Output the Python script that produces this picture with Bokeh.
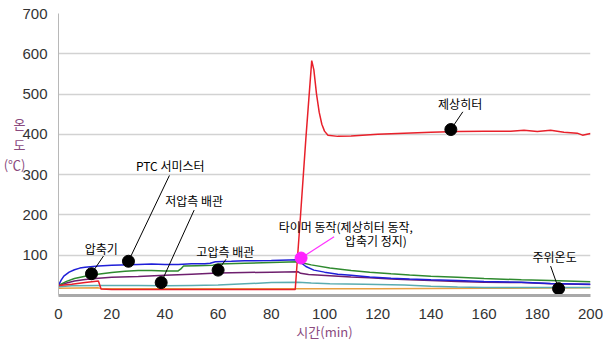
from bokeh.plotting import figure
from bokeh.models import FixedTicker, Label
from bokeh.embed import file_html
from bokeh.resources import INLINE

# ---------------- data ----------------
x_ticks = [0, 20, 40, 60, 80, 100, 120, 140, 160, 180, 200]
y_ticks = [100, 200, 300, 400, 500, 600, 700]

# 제상히터 (red)
red_t = [0, 5, 10, 15, 16, 20, 40, 60, 80, 89, 91, 93, 95.2, 96, 97, 98, 99, 100, 101.3, 105, 110, 120, 130, 140, 150, 160, 170, 175, 180, 185, 190, 195, 197, 200]
red_v = [25, 28, 32, 36, 16, 15, 15, 15, 15, 15, 200, 390, 583, 560, 500, 455, 425, 408, 398, 395, 396, 400, 403, 405, 407, 408, 408, 410, 407, 410, 405, 403, 398, 402]

# PTC 서미스터 (blue)
blue_t = [0, 1, 2, 4, 6, 8, 10, 15, 20, 30, 35, 40, 45, 50, 55, 57, 59, 65, 70, 80, 90, 91, 93, 96, 100, 105, 110, 117, 125, 132, 140, 150, 160, 174, 185, 200]
blue_v = [25, 38, 48, 58, 64, 68, 70, 73, 75, 77, 78, 77, 77, 79, 79, 80, 84, 85, 86, 87, 89, 82, 72, 63, 58, 53, 50, 46, 43, 41, 39, 37, 35, 33, 30, 28]

# 압축기 (green)
green_t = [0, 3, 6, 10, 14, 20, 25, 30, 35, 40, 45, 46, 47, 52, 58, 60, 70, 80, 90, 91, 95, 102, 110, 117, 125, 132, 140, 150, 160, 174, 185, 200]
green_v = [25, 35, 42, 48, 52, 57, 60, 62, 62, 61, 61, 66, 73, 74, 75, 78, 80, 82, 84, 82, 76, 68, 62, 58, 54, 51, 48, 45, 42, 39, 37, 34]

# 고압측 배관 (purple)
purple_t = [0, 3, 6, 10, 15, 20, 30, 40, 50, 60, 70, 80, 90, 91, 94, 102, 110, 117, 125, 132, 140, 150, 160, 174, 185, 200]
purple_v = [25, 31, 36, 40, 43, 45, 47, 50, 53, 56, 57, 58, 59, 55, 52, 49, 46, 44, 41, 39, 37, 35, 33, 32, 29, 27]

# 저압측 배관 (teal)
teal_t = [0, 5, 15, 16, 30, 40, 50, 60, 70, 80, 90, 95, 102, 115, 130, 140, 150, 160, 180, 200]
teal_v = [22, 24, 25, 25, 25, 24, 25, 26, 29, 32, 33, 31, 29, 28, 26, 23, 21, 20, 20, 20]

# 주위온도 (orange)
orange_t = [0, 15, 16, 60, 90, 120, 160, 200]
orange_v = [18, 19, 17, 17, 17, 17, 18, 19]

# annotation markers (t, value) and label text
dot_t = [12.4, 26.3, 38.6, 60, 147.5, 188]
dot_v = [54, 85, 32, 63, 412, 17]
lead_t = [16.9, 41.7, 51, 63, 152, 185]
lead_v = [98, 298, 212, 90, 456, 73]
lab_t = [16.1, 42, 51, 62.7, 151, 186.5]
lab_v = [117, 322, 237, 110, 476, 98]
lab_text = ["압축기", "PTC 서미스터", "저압측 배관", "고압측 배관", "제상히터", "주위온도"]

timer_dot = (91.2, 93)
timer_lead = (103.6, 146)
timer_lines = ["타이머 동작(제상히터 동작,", "압축기 정지)"]
timer_lab_t = [108, 119.3]
timer_lab_v = [171, 137]

KFONT = "Noto Sans CJK KR"
PURPLE_TXT = "#8a4a7e"

p = figure(width=603, height=343, x_range=(0, 200), y_range=(0, 700),
           output_backend="svg", toolbar_location=None,
           min_border_left=57, min_border_right=13, min_border_top=13, min_border_bottom=43)
p.outline_line_color = None
p.background_fill_color = "white"

p.xaxis.ticker = FixedTicker(ticks=x_ticks)
p.yaxis.ticker = FixedTicker(ticks=y_ticks)
p.xgrid.grid_line_color = None
p.ygrid.ticker = FixedTicker(ticks=y_ticks)
p.ygrid.grid_line_color = "#d2d2d2"
p.ygrid.grid_line_width = 1.5

for ax in (p.xaxis, p.yaxis):
    ax.major_tick_line_color = None
    ax.minor_tick_line_color = None
    ax.major_label_text_font = "Liberation Sans"
    ax.major_label_text_font_size = "15px"
    ax.major_label_text_color = "#333333"
    ax.axis_label_text_font = KFONT
    ax.axis_label_text_font_size = "13px"
    ax.axis_label_text_font_style = "normal"
    ax.axis_label_text_color = PURPLE_TXT
p.xaxis.axis_line_color = "#a9a9a9"
p.xaxis.axis_line_width = 3
p.xaxis.major_label_standoff = 7
p.xaxis.axis_label = "시간(min)"
p.xaxis.axis_label_standoff = 0
p.yaxis.axis_line_color = "#b8b8b8"
p.yaxis.axis_line_width = 1
p.yaxis.major_label_standoff = 5
p.yaxis.axis_label = "온\n도\n(℃)\n "
p.yaxis.axis_label_orientation = "horizontal"
p.yaxis.axis_label_text_line_height = 1.1
p.yaxis.axis_label_standoff = -6

lw = 1.5
p.line(orange_t, orange_v, line_color="#e8a040", line_width=lw)
p.line(teal_t, teal_v, line_color="#5aacb0", line_width=lw)
p.line(purple_t, purple_v, line_color="#6e1f6e", line_width=lw)
p.line(green_t, green_v, line_color="#2f8a2f", line_width=lw)
p.line(blue_t, blue_v, line_color="#1f1fd8", line_width=lw)
p.line(red_t, red_v, line_color="#e8202a", line_width=lw)

# leader lines and dots
p.segment(x0=lead_t, y0=lead_v, x1=dot_t, y1=dot_v, line_color="black", line_width=1)
p.scatter(dot_t, dot_v, size=12, fill_color="black", line_color="black")
p.segment(x0=[timer_lead[0]], y0=[timer_lead[1]], x1=[timer_dot[0]], y1=[timer_dot[1]],
          line_color="#ff33ff", line_width=1.2)
p.scatter([timer_dot[0]], [timer_dot[1]], size=12, fill_color="#ff22ff", line_color="#ff22ff")

for t, v, s in zip(lab_t, lab_v, lab_text):
    p.add_layout(Label(x=t, y=v, text=s, text_font=KFONT, text_font_size="12px",
                       text_align="center", text_baseline="middle", text_color="black"))
for t, v, s in zip(timer_lab_t, timer_lab_v, timer_lines):
    p.add_layout(Label(x=t, y=v, text=s, text_font=KFONT, text_font_size="12px",
                       text_align="center", text_baseline="middle", text_color="black"))

open("out.html", "w").write(file_html(p, INLINE))
